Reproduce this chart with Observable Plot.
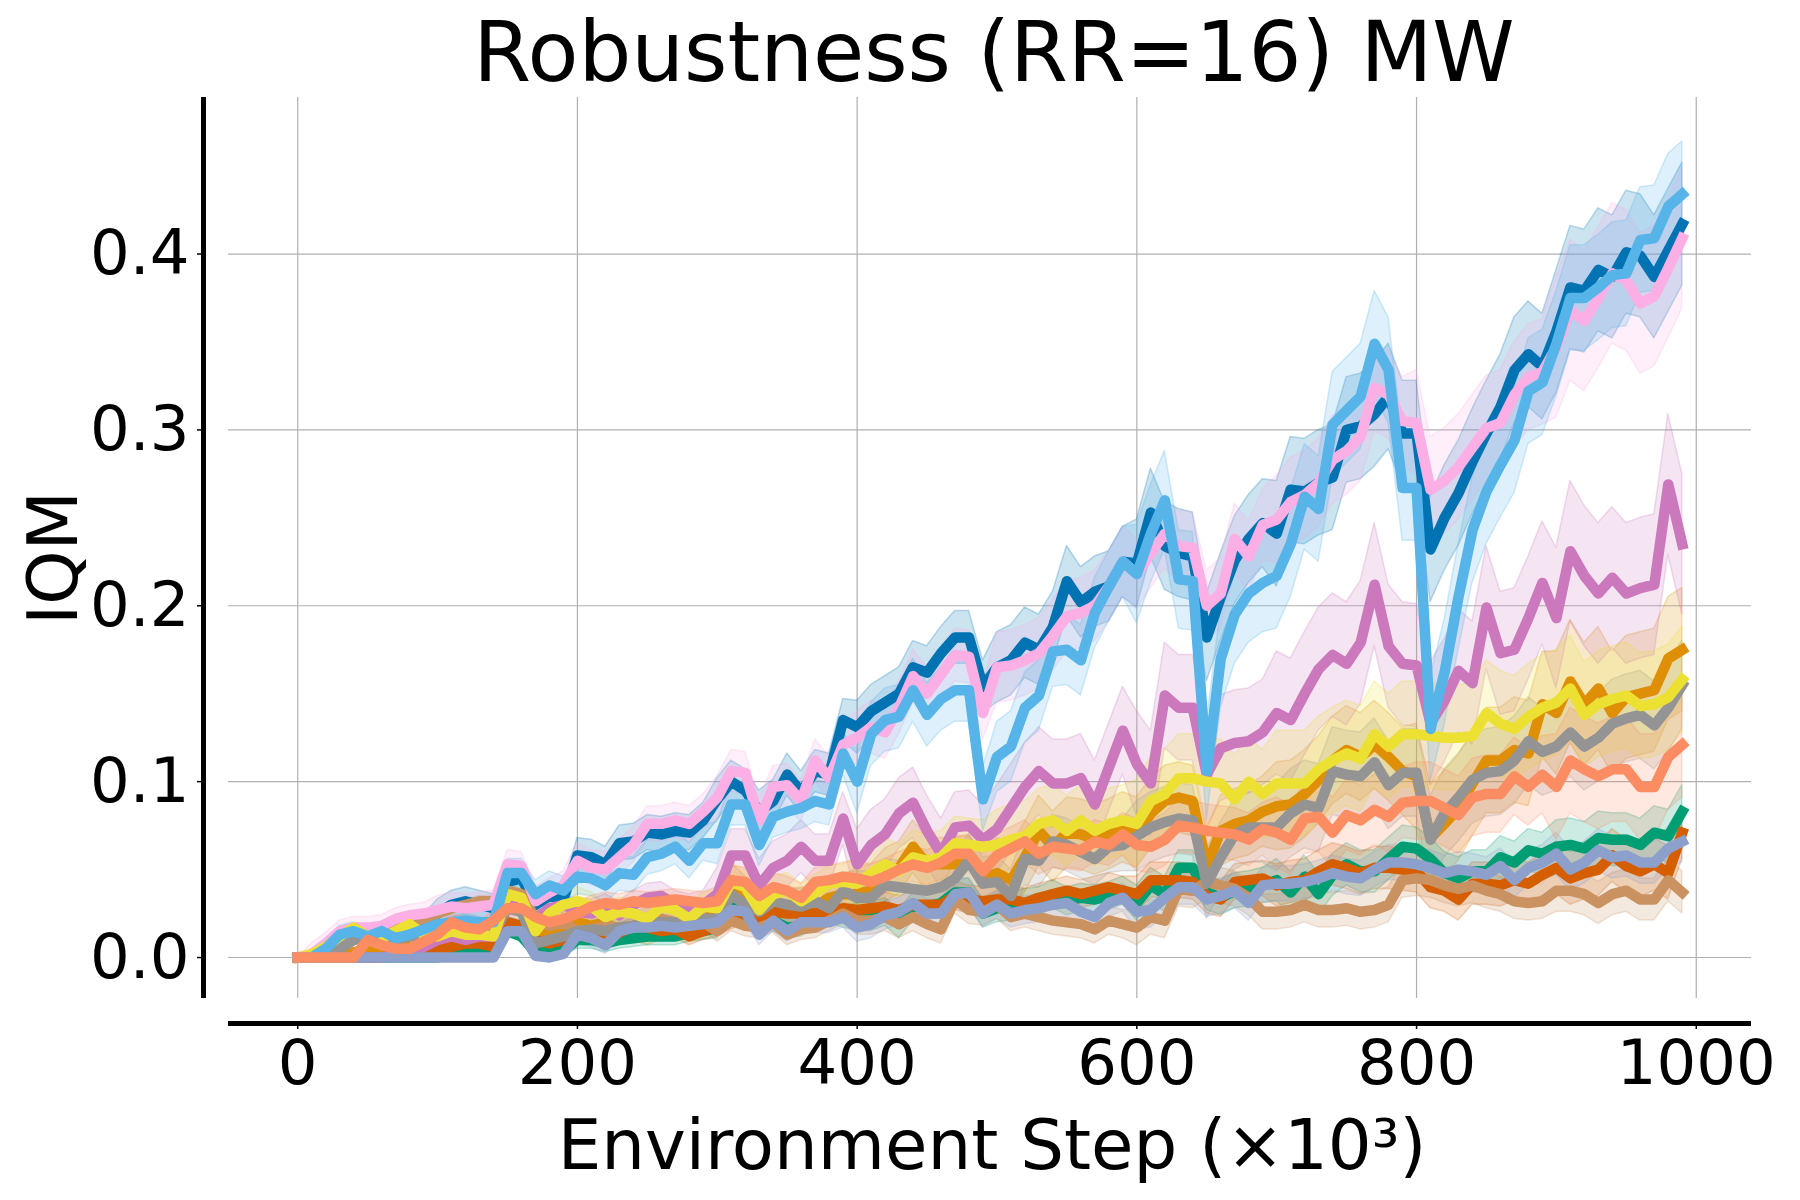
<!DOCTYPE html>
<html><head><meta charset="utf-8">
<script src="https://cdn.jsdelivr.net/npm/d3@7"></script>
<script src="https://cdn.jsdelivr.net/npm/@observablehq/plot@0.6"></script>
<style>body{margin:0;background:#fff;} #chart svg{display:block}</style>
</head><body><div id="chart"></div>
<script>
// ---- data (x in units of 10^3 environment steps) ----
const steps = d3.range(0, 1000, 10);
const xTicks = [0, 200, 400, 600, 800, 1000];
const yTicks = [0, 0.1, 0.2, 0.3, 0.4];
const titleText = "Robustness (RR=16) MW";
const xLabel = "Environment Step (×10³)";
const yLabel = "IQM";

const darkBlue = [0,0,0.005,0.012,0.015,0.012,0.014,0.016,0.018,0.02,
0.025,0.03,0.032,0.03,0.028,0.043,0.045,0.03,0.035,0.033,
0.058,0.057,0.053,0.065,0.066,0.071,0.07,0.072,0.071,0.078,
0.09,0.1,0.095,0.083,0.089,0.104,0.094,0.106,0.104,0.135,
0.131,0.14,0.145,0.15,0.165,0.162,0.173,0.182,0.182,0.154,
0.165,0.169,0.179,0.175,0.188,0.214,0.202,0.208,0.211,0.225,
0.224,0.253,0.234,0.23,0.228,0.182,0.205,0.226,0.238,0.247,
0.241,0.266,0.265,0.27,0.273,0.3,0.302,0.309,0.319,0.298,
0.298,0.232,0.25,0.264,0.282,0.298,0.313,0.334,0.343,0.336,
0.356,0.381,0.379,0.391,0.387,0.401,0.399,0.387,0.402,0.417];
const lightBlue = [0,0,0.005,0.013,0.015,0.012,0.015,0.011,0.013,0.016,
0.019,0.02,0.021,0.02,0.02,0.048,0.048,0.036,0.041,0.038,
0.046,0.045,0.041,0.048,0.047,0.057,0.059,0.063,0.055,0.065,
0.065,0.087,0.087,0.064,0.08,0.083,0.085,0.089,0.087,0.116,
0.1,0.127,0.135,0.137,0.152,0.138,0.147,0.152,0.152,0.09,
0.114,0.12,0.142,0.149,0.174,0.175,0.169,0.196,0.211,0.225,
0.218,0.241,0.26,0.215,0.214,0.106,0.17,0.195,0.207,0.213,
0.217,0.235,0.262,0.255,0.303,0.311,0.319,0.349,0.334,0.267,
0.267,0.13,0.162,0.205,0.243,0.265,0.28,0.294,0.322,0.327,
0.349,0.375,0.375,0.381,0.388,0.389,0.408,0.409,0.427,0.434];
const pink = [0,0.002,0.008,0.015,0.017,0.017,0.018,0.022,0.024,0.025,
0.027,0.029,0.028,0.029,0.03,0.053,0.052,0.032,0.037,0.041,
0.055,0.051,0.05,0.057,0.064,0.076,0.076,0.078,0.076,0.083,
0.091,0.106,0.105,0.078,0.097,0.098,0.089,0.112,0.102,0.121,
0.125,0.131,0.128,0.142,0.16,0.15,0.161,0.172,0.171,0.139,
0.165,0.166,0.169,0.173,0.183,0.194,0.196,0.2,0.211,0.225,
0.218,0.23,0.241,0.234,0.233,0.2,0.207,0.238,0.228,0.246,
0.249,0.259,0.263,0.27,0.283,0.288,0.296,0.324,0.32,0.305,
0.304,0.266,0.271,0.279,0.29,0.301,0.304,0.32,0.33,0.333,
0.347,0.368,0.362,0.375,0.389,0.385,0.372,0.376,0.392,0.409];
const magenta = [0,0,0,0,0,0,0,0.002,0.004,0.006,
0.01,0.012,0.01,0.012,0.012,0.03,0.028,0.022,0.028,0.03,
0.026,0.025,0.028,0.024,0.03,0.034,0.035,0.03,0.028,0.03,
0.036,0.058,0.058,0.041,0.051,0.055,0.063,0.055,0.055,0.079,
0.053,0.064,0.07,0.082,0.088,0.072,0.059,0.074,0.075,0.067,
0.073,0.085,0.097,0.106,0.099,0.099,0.102,0.087,0.108,0.129,
0.11,0.099,0.149,0.142,0.142,0.104,0.119,0.122,0.123,0.128,
0.139,0.135,0.15,0.164,0.172,0.167,0.179,0.212,0.177,0.167,
0.166,0.133,0.146,0.163,0.156,0.199,0.173,0.175,0.193,0.213,
0.193,0.231,0.217,0.207,0.216,0.207,0.21,0.212,0.269,0.235];
const orange = [0,0,0,0,0.003,0.005,0.005,0.005,0.006,0.006,
0.008,0.01,0.012,0.015,0.012,0.035,0.033,0.015,0.012,0.015,
0.02,0.018,0.02,0.015,0.018,0.015,0.018,0.02,0.018,0.02,
0.028,0.044,0.036,0.026,0.03,0.028,0.03,0.029,0.034,0.036,
0.036,0.038,0.047,0.051,0.063,0.053,0.053,0.053,0.055,0.045,
0.048,0.044,0.057,0.072,0.063,0.071,0.07,0.067,0.07,0.074,
0.071,0.082,0.089,0.091,0.089,0.052,0.072,0.076,0.078,0.083,
0.086,0.087,0.093,0.101,0.112,0.118,0.114,0.121,0.114,0.106,
0.103,0.068,0.076,0.085,0.099,0.112,0.112,0.118,0.116,0.144,
0.139,0.157,0.144,0.153,0.139,0.148,0.15,0.152,0.17,0.175];
const yellow = [0,0.002,0.006,0.012,0.017,0.012,0.011,0.015,0.019,0.013,
0.012,0.015,0.013,0.013,0.012,0.036,0.034,0.015,0.025,0.03,
0.032,0.029,0.023,0.026,0.025,0.022,0.029,0.027,0.022,0.029,
0.028,0.043,0.04,0.027,0.036,0.038,0.032,0.037,0.042,0.043,
0.042,0.048,0.053,0.049,0.057,0.055,0.057,0.065,0.064,0.063,
0.064,0.067,0.069,0.076,0.078,0.072,0.078,0.072,0.076,0.078,
0.076,0.089,0.093,0.102,0.102,0.1,0.099,0.09,0.1,0.093,
0.099,0.099,0.099,0.107,0.112,0.116,0.113,0.127,0.12,0.127,
0.127,0.126,0.125,0.125,0.126,0.139,0.133,0.13,0.137,0.142,
0.145,0.153,0.138,0.144,0.147,0.149,0.143,0.144,0.148,0.158];
const gray = [0,0,0,0.005,0.01,0.012,0.012,0.01,0.012,0.012,
0.015,0.018,0.02,0.018,0.015,0.028,0.026,0.008,0.01,0.012,
0.015,0.016,0.015,0.017,0.018,0.02,0.02,0.02,0.021,0.022,
0.022,0.036,0.03,0.026,0.032,0.03,0.029,0.032,0.028,0.038,
0.034,0.034,0.041,0.04,0.039,0.038,0.04,0.045,0.055,0.042,
0.043,0.035,0.056,0.055,0.066,0.064,0.06,0.056,0.063,0.064,
0.069,0.074,0.077,0.079,0.078,0.042,0.057,0.07,0.074,0.074,
0.074,0.082,0.087,0.085,0.106,0.104,0.103,0.111,0.098,0.105,
0.105,0.067,0.082,0.091,0.101,0.105,0.106,0.112,0.123,0.117,
0.12,0.128,0.12,0.125,0.133,0.136,0.138,0.132,0.142,0.155];
const salmon = [0,0,0,0,0,0.01,0.007,0.005,0.005,0.009,
0.013,0.02,0.017,0.016,0.021,0.028,0.028,0.023,0.02,0.022,
0.025,0.029,0.031,0.03,0.032,0.031,0.032,0.033,0.032,0.031,
0.032,0.044,0.043,0.035,0.04,0.038,0.034,0.043,0.044,0.046,
0.045,0.043,0.046,0.05,0.053,0.051,0.054,0.059,0.059,0.049,
0.058,0.062,0.066,0.059,0.063,0.062,0.061,0.066,0.064,0.07,
0.064,0.063,0.067,0.075,0.074,0.072,0.071,0.07,0.067,0.073,
0.071,0.067,0.079,0.08,0.071,0.081,0.078,0.084,0.08,0.088,
0.089,0.089,0.085,0.081,0.091,0.093,0.093,0.103,0.097,0.104,
0.097,0.112,0.107,0.103,0.107,0.107,0.097,0.097,0.114,0.121];
const green = [0,0,0,0,0,0,0,0,0,0,
0,0.002,0.004,0.004,0.003,0.015,0.012,0.003,0.003,0.004,
0.01,0.01,0.008,0.01,0.011,0.012,0.012,0.012,0.014,0.015,
0.017,0.032,0.03,0.021,0.021,0.017,0.018,0.022,0.025,0.023,
0.023,0.023,0.026,0.019,0.029,0.029,0.031,0.037,0.037,0.025,
0.028,0.029,0.031,0.032,0.036,0.032,0.034,0.033,0.035,0.038,
0.031,0.041,0.036,0.051,0.051,0.037,0.034,0.038,0.039,0.041,
0.044,0.037,0.046,0.036,0.047,0.053,0.049,0.049,0.056,0.063,
0.062,0.056,0.048,0.045,0.049,0.049,0.057,0.054,0.061,0.059,
0.063,0.064,0.062,0.068,0.067,0.067,0.064,0.071,0.069,0.083];
const vermilion = [0,0,0,0,0,0,0,0.002,0.003,0.004,
0.005,0.006,0.008,0.008,0.006,0.02,0.018,0.01,0.008,0.01,
0.012,0.015,0.012,0.014,0.018,0.017,0.015,0.016,0.012,0.015,
0.018,0.022,0.025,0.02,0.026,0.025,0.025,0.025,0.026,0.028,
0.027,0.028,0.029,0.027,0.03,0.03,0.03,0.035,0.033,0.032,
0.033,0.033,0.031,0.034,0.036,0.038,0.036,0.038,0.04,0.038,
0.036,0.044,0.044,0.044,0.043,0.035,0.033,0.043,0.044,0.045,
0.041,0.043,0.044,0.049,0.053,0.051,0.048,0.051,0.051,0.05,
0.049,0.04,0.038,0.033,0.042,0.042,0.041,0.044,0.042,0.047,
0.051,0.045,0.048,0.05,0.058,0.052,0.049,0.053,0.048,0.071];
const lavender = [0,0,0,0,0,0,0,0,0,0,
0,0,0,0,0,0.015,0.015,0.001,0,0.002,
0.013,0.011,0.007,0.015,0.017,0.017,0.018,0.017,0.018,0.019,
0.02,0.027,0.026,0.013,0.021,0.015,0.02,0.02,0.02,0.023,
0.017,0.019,0.024,0.026,0.031,0.025,0.025,0.036,0.037,0.025,
0.03,0.025,0.027,0.028,0.03,0.031,0.026,0.023,0.031,0.034,
0.026,0.027,0.034,0.04,0.04,0.033,0.035,0.038,0.031,0.041,
0.042,0.042,0.043,0.045,0.048,0.046,0.045,0.05,0.054,0.054,
0.053,0.051,0.048,0.05,0.049,0.047,0.052,0.044,0.051,0.054,
0.059,0.05,0.054,0.061,0.057,0.058,0.054,0.054,0.062,0.066];
const brown = [0,0,0.003,0.008,0.01,0.012,0.015,0.017,0.02,0.022,
0.025,0.028,0.03,0.032,0.032,0.038,0.036,0.022,0.018,0.02,
0.015,0.016,0.018,0.017,0.018,0.02,0.022,0.02,0.018,0.02,
0.015,0.021,0.018,0.017,0.02,0.013,0.016,0.017,0.021,0.025,
0.021,0.021,0.023,0.019,0.023,0.019,0.016,0.033,0.027,0.026,
0.03,0.023,0.025,0.023,0.021,0.02,0.019,0.016,0.021,0.019,
0.017,0.023,0.021,0.039,0.038,0.043,0.041,0.039,0.034,0.026,
0.026,0.027,0.03,0.027,0.027,0.028,0.026,0.027,0.03,0.044,
0.045,0.044,0.041,0.039,0.041,0.038,0.036,0.032,0.031,0.032,
0.038,0.038,0.036,0.031,0.036,0.038,0.033,0.033,0.044,0.037];

// confidence-band half widths, one reading per 100k-step stretch
const bandDarkBlue  = [0.004,0.008,0.01,0.012,0.015,0.02,0.025,0.03,0.03,0.035];
const bandLightBlue = [0.005,0.008,0.01,0.012,0.018,0.02,0.028,0.03,0.03,0.03];
const bandPink      = [0.006,0.008,0.01,0.012,0.015,0.02,0.02,0.025,0.03,0.04];
const bandMagenta   = [0.002,0.005,0.008,0.015,0.02,0.025,0.03,0.035,0.035,0.04];
const bandOrange    = [0.002,0.005,0.008,0.01,0.015,0.02,0.02,0.025,0.03,0.035];
const bandYellow    = [0.002,0.005,0.008,0.01,0.015,0.02,0.025,0.03,0.03,0.03];
const bandGray      = [0.002,0.005,0.008,0.01,0.015,0.015,0.02,0.025,0.025,0.025];
const bandSalmon    = [0.002,0.005,0.006,0.008,0.01,0.012,0.015,0.02,0.022,0.03];
const bandGreen     = [0.002,0.003,0.005,0.006,0.008,0.008,0.01,0.012,0.012,0.015];
const bandVermilion = [0.002,0.003,0.005,0.006,0.008,0.008,0.01,0.012,0.012,0.015];
const bandLavender  = [0.002,0.003,0.005,0.006,0.008,0.008,0.01,0.01,0.01,0.012];
const bandBrown     = [0.002,0.003,0.005,0.006,0.008,0.008,0.01,0.01,0.01,0.012];

// draw order (later = on top)
const seriesKeys = ["darkBlue","orange","green","vermilion","magenta","brown","pink","gray","yellow","lightBlue","lavender","salmon"];
const seriesValues = {darkBlue, orange, green, vermilion, magenta, brown, pink, gray, yellow, lightBlue, lavender, salmon};
const seriesBands = {darkBlue: bandDarkBlue, orange: bandOrange, green: bandGreen, vermilion: bandVermilion, magenta: bandMagenta, brown: bandBrown, pink: bandPink, gray: bandGray, yellow: bandYellow, lightBlue: bandLightBlue, lavender: bandLavender, salmon: bandSalmon};
const seriesColors = {darkBlue:"#0173b2", orange:"#de8f05", green:"#029e73", vermilion:"#d55e00", magenta:"#cc78bc", brown:"#ca9161", pink:"#fbafe4", gray:"#949494", yellow:"#ece133", lightBlue:"#56b4e9", lavender:"#8da0cb", salmon:"#fc8d62"};

// ---- build rows ----
const rowsBy = {};
for (const k of seriesKeys) {
  rowsBy[k] = steps.map((x, i) => {
    const y = seriesValues[k][i];
    const h = y > 0 ? seriesBands[k][Math.floor(i / 10)] : 0;
    return {series: k, x, y, lo: Math.max(0, y - h), hi: y + h};
  });
}

// matplotlib-like 5% margins
const xDomain = [-49.5, 1039.5];
const yDomain = [-0.0233, 0.489];
const spineOffset = 25;
const tickFont = 62.5, labelFont = 69, titleFont = 83.3;

const marks = [
  Plot.gridX(xTicks, {stroke: "#b0b0b0", strokeOpacity: 1, strokeWidth: 1.2}),
  Plot.gridY(yTicks, {stroke: "#b0b0b0", strokeOpacity: 1, strokeWidth: 1.2}),
];
for (const k of seriesKeys) {
  marks.push(Plot.areaY(rowsBy[k], {x: "x", y1: "lo", y2: "hi", fill: seriesColors[k], fillOpacity: 0.2,
    stroke: seriesColors[k], strokeOpacity: 0.25, strokeWidth: 1.5}));
}
for (const k of seriesKeys) {
  marks.push(Plot.lineY(rowsBy[k], {x: "x", y: "y", stroke: seriesColors[k], strokeWidth: 10.5,
    strokeLinecap: "square", strokeLinejoin: "round"}));
}
marks.push(
  Plot.ruleX([xDomain[0]], {y1: yDomain[0], y2: yDomain[1], dx: -spineOffset, stroke: "black", strokeWidth: 5}),
  Plot.ruleY([yDomain[0]], {x1: xDomain[0], x2: xDomain[1], dy: spineOffset, stroke: "black", strokeWidth: 5}),
  Plot.axisY(yTicks, {tickFormat: d => d.toFixed(1), fontSize: tickFont, tickSize: 6, tickPadding: 8,
    dx: -spineOffset, label: null, stroke: "black", strokeWidth: 1.5}),
  Plot.axisX(xTicks, {tickFormat: d => String(d), fontSize: tickFont, tickSize: 6, tickPadding: 10,
    dy: spineOffset, label: null, stroke: "black", strokeWidth: 1.5}),
  Plot.text([titleText], {text: d => d, frameAnchor: "top", textAnchor: "middle", lineAnchor: "bottom", dy: -17, dx: 4, fontSize: titleFont, fill: "black"}),
  Plot.text([xLabel], {text: d => d, frameAnchor: "bottom", textAnchor: "middle", lineAnchor: "bottom", dy: 170, dx: 2, fontSize: labelFont, fill: "black"}),
  Plot.text([yLabel], {text: d => d, frameAnchor: "left", textAnchor: "middle", lineAnchor: "bottom", rotate: -90, dx: -152, dy: 10, fontSize: labelFont, fill: "black"})
);

const chart = Plot.plot({
  width: 1800, height: 1200,
  marginLeft: 228, marginRight: 49, marginTop: 97, marginBottom: 202,
  x: {domain: xDomain, axis: null},
  y: {domain: yDomain, axis: null},
  style: {fontFamily: "DejaVu Sans", color: "black", background: "white", overflow: "visible"},
  marks
});
document.getElementById("chart").appendChild(chart);
</script></body></html>
